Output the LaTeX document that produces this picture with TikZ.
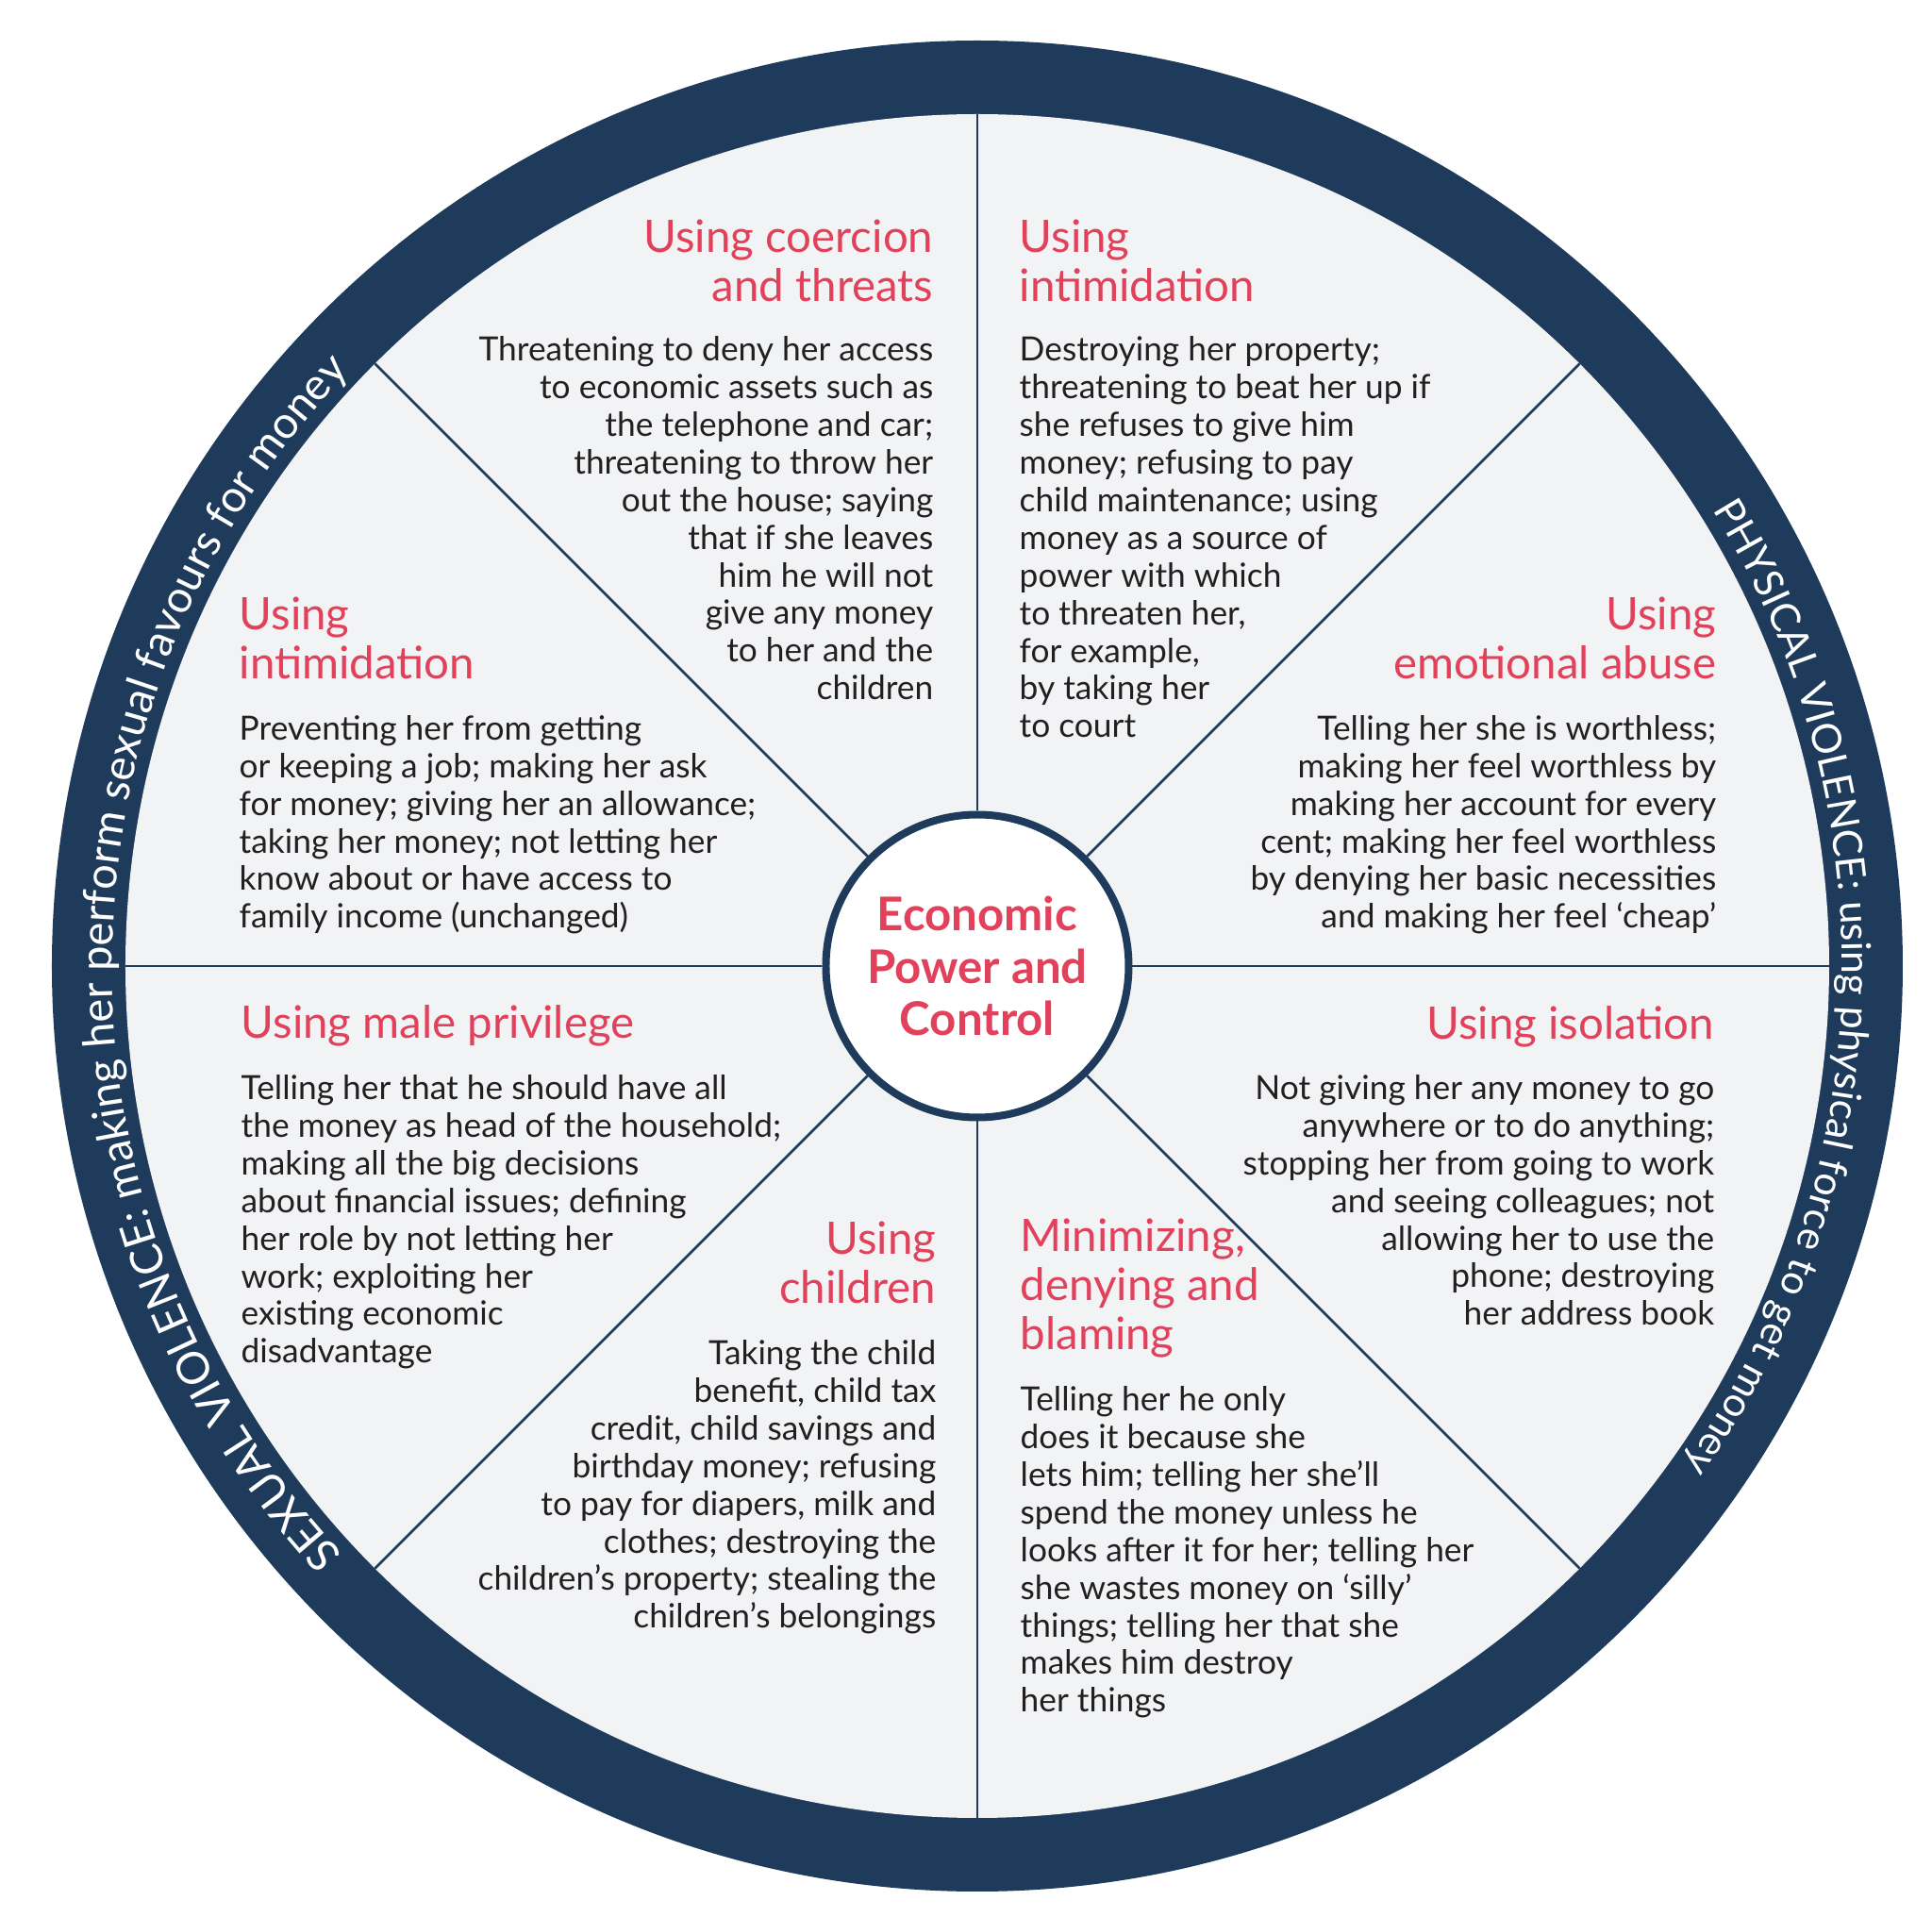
\documentclass[tikz,border=0pt]{standalone}
\usepackage{fontspec}
\setmainfont{Lato}
\usetikzlibrary{positioning, decorations.text}
\definecolor{navy}{RGB}{31,59,92}
\definecolor{pale}{RGB}{242,243,245}
\definecolor{rose}{RGB}{225,65,90}
\definecolor{ink}{RGB}{35,31,32}
\tikzset{
heading/.style={text=rose, inner sep=0pt, font=\fontsize{13.5}{14.8}\selectfont},
body/.style={text=ink, inner sep=0pt, font=\fontsize{10.05}{11.38}\selectfont},
spoke/.style={navy, line width=0.75pt},
hubcircle/.style={circle, draw=navy, fill=white, line width=0.08cm, minimum size=3.21cm,
  text=rose, align=center, font=\bfseries\fontsize{14}{15.8}\selectfont},
ringtext/.style 2 args={decorate, decoration={text along path, text align=center,
  text color=white, text={|\fontsize{#1}{14}\selectfont|#2}}},
}

\begin{document}
\begin{tikzpicture}
    \useasboundingbox (-10.36,-10.08) rectangle (10.12,10.24);
    \fill[navy] (0,0) circle (9.81);
    \fill[pale] (0,0) circle (9.03);
    \node[hubcircle] (hub) at (0,0) {Economic\\Power and\\Control};
    \foreach \a in {0,45,...,315}
        \draw[spoke] (hub.\a) -- (\a:9.03);
    % ring texts
    \path[ringtext={13.4}{SEXUAL VIOLENCE: making her perform sexual favours for money}]
        (224.7:9.17) arc[start angle=224.7, end angle=134.7, radius=9.17];
    \path[ringtext={12.2}{PHYSICAL VIOLENCE: using physical force to get money}]
        (43.35:9.17) arc[start angle=43.35, end angle=-46.65, radius=9.17];

    % top left
    \node[heading, anchor=base east, align=right] (coercionT) at (-0.46,7.04) {Using coercion\\and threats};
    \node[body, anchor=base east, align=right] (coercionB) at ([yshift=-4.22cm]coercionT.base east)
        {Threatening to deny her access\\to economic assets such as\\the telephone and car;\\threatening to throw her\\out the house; saying\\that if she leaves\\him he will not\\give any money\\to her and the\\children};
    % top right
    \node[heading, anchor=base west, align=left] (threatT) at (0.44,7.04) {Using\\intimidation};
    \node[body, anchor=base west, align=left] (threatB) at ([yshift=-4.62cm]threatT.base west)
        {Destroying her property;\\threatening to beat her up if\\she refuses to give him\\money; refusing to pay\\child maintenance; using\\money as a source of\\power with which\\to threaten her,\\for example,\\by taking her\\to court};
    % right
    \node[heading, anchor=base east, align=right] (emotionT) at (7.84,3.04) {Using\\emotional abuse};
    \node[body, anchor=base east, align=right] (emotionB) at ([yshift=-2.64cm]emotionT.base east)
        {Telling her she is worthless;\\making her feel worthless by\\making her account for every\\cent; making her feel worthless\\by denying her basic necessities\\and making her feel ‘cheap’};
    % left
    \node[heading, anchor=base west, align=left] (jobT) at (-7.83,3.04) {Using\\intimidation};
    \node[body, anchor=base west, align=left] (jobB) at ([yshift=-2.64cm]jobT.base west)
        {Preventing her from getting\\or keeping a job; making her ask\\for money; giving her an allowance;\\taking her money; not letting her\\know about or have access to\\family income (unchanged)};
    % lower left
    \node[heading, anchor=base west, align=left] (maleT) at (-7.81,-0.77) {Using male privilege};
    \node[body, anchor=base west, align=left] (maleB) at ([yshift=-3.44cm]maleT.base west)
        {Telling her that he should have all\\the money as head of the household;\\making all the big decisions\\about financial issues; defining\\her role by not letting her\\work; exploiting her\\existing economic\\disadvantage};
    % bottom left
    \node[heading, anchor=base east, align=right] (childT) at (-0.43,-3.58) {Using\\children};
    \node[body, anchor=base east, align=right] (childB) at ([yshift=-3.44cm]childT.base east)
        {Taking the child\\benefit, child tax\\credit, child savings and\\birthday money; refusing\\to pay for diapers, milk and\\clothes; destroying the\\children’s property; stealing the\\children’s belongings};
    % bottom right
    \node[heading, anchor=base west, align=left] (blameT) at (0.45,-4.07) {Minimizing,\\denying and\\blaming};
    \node[body, anchor=base west, align=left] (blameB) at ([yshift=-3.84cm]blameT.base west)
        {Telling her he only\\does it because she\\lets him; telling her she’ll\\spend the money unless he\\looks after it for her; telling her\\she wastes money on ‘silly’\\things; telling her that she\\makes him destroy\\her things};
    % lower right
    \node[heading, anchor=base east, align=right] (isolT) at (7.82,-0.78) {Using isolation};
    \node[body, anchor=base east, align=right] (isolB) at ([yshift=-3.03cm]isolT.base east)
        {Not giving her any money to go\\anywhere or to do anything;\\stopping her from going to work\\and seeing colleagues; not\\allowing her to use the\\phone; destroying\\her address book};
\end{tikzpicture}
\end{document}
